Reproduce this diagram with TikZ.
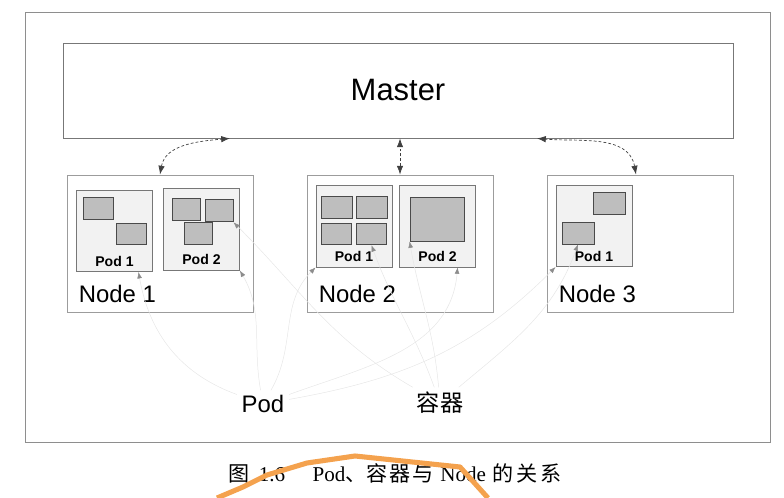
\documentclass[tikz,border=0pt]{standalone}
\usepackage{fontspec}
\setmainfont{Liberation Sans}
\newfontfamily\cjk{Noto Sans CJK SC}
\newfontfamily\capfont{Liberation Serif}
\usetikzlibrary{arrows.meta,positioning}
\definecolor{frameline}{HTML}{8E8E8E}
\definecolor{boxline}{HTML}{9C9C9C}
\definecolor{podline}{HTML}{777777}
\definecolor{podfill}{HTML}{F2F2F2}
\definecolor{ctrline}{HTML}{4A4A4A}
\definecolor{ctrfill}{HTML}{BEBEBE}
\definecolor{hintline}{HTML}{E6E6E6}
\definecolor{marker}{HTML}{F4A24E}

\begin{document}
\begin{tikzpicture}[
machine/.style={draw=boxline,fill=white,line width=.6pt,minimum width=4.65cm,minimum height=3.425cm,inner sep=0pt},
pod/.style={draw=podline,fill=podfill,line width=.6pt,minimum width=1.9cm,minimum height=2.03cm,inner sep=0pt},
ctr/.style={draw=ctrline,fill=ctrfill,line width=.6pt,minimum width=.76cm,minimum height=.54cm,inner sep=0pt},
podname/.style={font=\fontsize{10}{12}\selectfont\bfseries,anchor=base,inner sep=0pt},
nodename/.style={font=\fontsize{17}{20}\selectfont,anchor=base west,inner sep=0pt},
link/.style={{Latex[length=2.2mm,width=1.6mm]}-{Latex[length=2.2mm,width=1.6mm]},dash pattern=on 2pt off 1.5pt,line width=.5pt,draw=black!75},
hint/.style={-{Latex[length=1.6mm,width=1.2mm,color=black!45]},line width=.35pt,draw=hintline}]
\useasboundingbox (0,0) rectangle (19.6,12.45);
\draw[draw=frameline,line width=.6pt] (0.625,1.4) rectangle (19.25,12.15);
\node[draw=podline,line width=.6pt,minimum width=16.75cm,minimum height=2.375cm,font=\fontsize{22}{26}\selectfont] (master) at (9.95,10.1875) {Master};
% the three machines
\node[machine] (node1) at (4.0,6.3625) {};
\node[machine] (node2) at (10.0,6.3625) {};
\node[machine] (node3) at (16.0,6.3625) {};
\node[nodename] (node1t) at ([shift={(.3,.25)}]node1.south west) {Node 1};
\node[nodename] (node2t) at ([shift={(.3,.25)}]node2.south west) {Node 2};
\node[nodename] (node3t) at ([shift={(.3,.25)}]node3.south west) {Node 3};
% pods
\node[pod] (n1p1) at (2.8625,6.675) {};
\node[pod] (n1p2) at (5.0375,6.7125) {};
\node[pod] (n2p1) at (8.85,6.79) {};
\node[pod] (n2p2) at (10.94,6.79) {};
\node[pod] (n3p1) at (14.85,6.8) {};
\node[podname] (n1p1t) at ([yshift=.14cm]n1p1.south) {Pod 1};
\node[podname] (n1p2t) at ([yshift=.14cm]n1p2.south) {Pod 2};
\node[podname] (n2p1t) at ([yshift=.14cm]n2p1.south) {Pod 1};
\node[podname] (n2p2t) at ([yshift=.14cm]n2p2.south) {Pod 2};
\node[podname] (n3p1t) at ([yshift=.14cm]n3p1.south) {Pod 1};
% containers
\node[ctr] (n1p1c1) at (2.4625,7.2375) {};
\node[ctr] (n1p1c2) at (3.2875,6.6) {};
\node[ctr,minimum width=.68cm,minimum height=.55cm] (n1p2c1) at (4.6625,7.225) {};
\node[ctr,minimum width=.68cm,minimum height=.57cm] (n1p2c2) at (5.4875,7.1875) {};
\node[ctr,minimum width=.7cm,minimum height=.57cm] (n1p2c3) at (4.95,6.6125) {};
\node[ctr] (n2p1c1) at (8.425,7.2625) {};
\node[ctr] (n2p1c2) at (9.3,7.2625) {};
\node[ctr] (n2p1c3) at (8.4125,6.6) {};
\node[ctr] (n2p1c4) at (9.2875,6.6) {};
\node[ctr,minimum width=1.35cm,minimum height=1.1cm] (n2p2c) at (10.925,6.975) {};
\node[ctr,minimum width=.82cm,minimum height=.57cm] (n3p1c1) at (15.2375,7.3625) {};
\node[ctr,minimum width=.8cm,minimum height=.55cm] (n3p1c2) at (14.45,6.625) {};
% master to machines
\draw[link] (node1.north) to[out=80,in=185] ([xshift=-4.2cm]master.south);
\draw[link] (node2.north) -- (node2.north |- master.south);
\draw[link] ([xshift=-.1cm]node3.north) to[out=100,in=-5] ([xshift=3.475cm]master.south);
% captions below
\node[font=\fontsize{17}{20}\selectfont] (podlbl) at (6.575,2.35) {Pod};
\node[font=\cjk\fontsize{16.5}{20}\selectfont] (ctrlbl) at (11.0,2.375) {容器};
\draw[hint] (podlbl) to[out=160,in=-80] ([xshift=.6cm]n1p1.south);
\draw[hint] (podlbl) to[out=100,in=-60] (n1p2.south east);
\draw[hint] (podlbl) to[out=60,in=-135] (n2p1.south west);
\draw[hint] (podlbl) to[out=20,in=-95] ([xshift=.5cm]n2p2.south);
\draw[hint] (podlbl) to[out=10,in=-135] (n3p1.south west);
\draw[hint] (ctrlbl) to[out=150,in=-45] (n1p2c2.south east);
\draw[hint] (ctrlbl) to[out=110,in=-70] (n2p1c4.south);
\draw[hint] (ctrlbl) to[out=95,in=-80] (n2p2c.south west);
\draw[hint] (ctrlbl) to[out=40,in=-110] (n3p1c2.south);
\node[font=\fontsize{15}{17}\selectfont,anchor=west,inner sep=0pt] (caption) at (5.7,0.625) {\cjk 图\hspace{.45em}\capfont 1.6\hspace{1.3em}Pod\cjk 、容\hspace{.1em}器\hspace{.1em}与\hspace{.3em}\capfont Node\hspace{.3em}\cjk 的\hspace{.15em}关\hspace{.15em}系};
\draw[draw=marker,line width=3.6pt,line join=round] (5.425,0) -- (6.075,0.275) -- (6.675,0.575) -- (7.675,0.875) -- (8.875,1.05) -- (11.5,0.775) -- (12.2,0);
\end{tikzpicture}
\end{document}
